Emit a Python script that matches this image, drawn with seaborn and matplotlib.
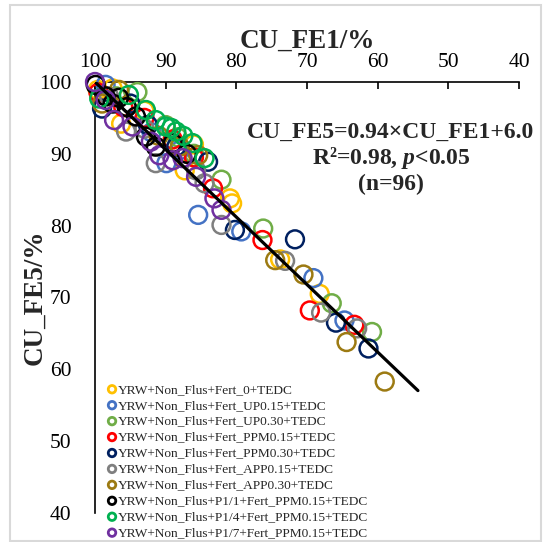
import numpy as np
import pandas as pd
import matplotlib
matplotlib.use("Agg")
import matplotlib.pyplot as plt
import seaborn as sns
from matplotlib.patches import Rectangle

sns.set_style("white")
plt.rcParams['font.family'] = ['Liberation Serif', 'DejaVu Serif']
plt.rcParams['mathtext.fontset'] = 'custom'
plt.rcParams['mathtext.it'] = 'Liberation Serif:italic:bold'
plt.rcParams['mathtext.rm'] = 'Liberation Serif:bold'

groups = [
    "YRW+Non_Flus+Fert_0+TEDC",
    "YRW+Non_Flus+Fert_UP0.15+TEDC",
    "YRW+Non_Flus+Fert_UP0.30+TEDC",
    "YRW+Non_Flus+Fert_PPM0.15+TEDC",
    "YRW+Non_Flus+Fert_PPM0.30+TEDC",
    "YRW+Non_Flus+Fert_APP0.15+TEDC",
    "YRW+Non_Flus+Fert_APP0.30+TEDC",
    "YRW+Non_Flus+P1/1+Fert_PPM0.15+TEDC",
    "YRW+Non_Flus+P1/4+Fert_PPM0.15+TEDC",
    "YRW+Non_Flus+P1/7+Fert_PPM0.15+TEDC",
]
colors = ["#FFC000", "#4472C4", "#70AD47", "#FF0000", "#002060",
          "#7F7F7F", "#9C7A12", "#000000", "#00B050", "#7030A0"]

fe1_yellow = [99.6, 97.5, 96.3, 93.0, 87.3, 86.0, 80.9, 73.8, 68.2, 80.6]
fe5_yellow = [98.9, 99.1, 94.2, 96.0, 87.7, 91.3, 83.8, 75.3, 70.5, 83.1]
fe1_blue = [98.5, 95.5, 92.0, 89.9, 88.0, 85.4, 79.3, 69.1, 64.7]
fe5_blue = [99.6, 96.5, 93.0, 88.7, 90.5, 81.5, 79.2, 72.7, 66.8]
fe1_lgreen = [97.0, 94.0, 90.0, 86.0, 82.1, 76.2, 66.5, 60.8, 88.3]
fe5_lgreen = [98.0, 98.6, 94.0, 90.0, 86.4, 79.6, 69.2, 65.2, 92.3]
fe1_red = [99.5, 96.0, 93.0, 89.0, 86.0, 83.3, 76.3, 69.6, 63.3]
fe5_red = [98.5, 96.5, 95.0, 92.0, 89.5, 85.2, 78.0, 68.2, 66.2]
fe1_dblue = [99.0, 95.0, 92.5, 88.5, 84.0, 80.2, 71.7, 65.9, 61.3]
fe5_dblue = [96.3, 97.0, 94.0, 91.0, 88.9, 79.4, 78.1, 66.5, 62.9]
fe1_gray = [98.0, 95.6, 93.0, 91.4, 85.7, 84.5, 82.1, 73.1, 68.0, 62.9]
fe5_gray = [98.0, 93.1, 93.5, 88.7, 87.7, 85.9, 80.1, 75.1, 67.9, 65.7]
fe1_brown = [99.0, 96.6, 91.0, 88.0, 85.4, 74.5, 70.5, 64.4, 59.0]
fe5_brown = [97.0, 98.9, 92.5, 91.0, 89.8, 75.2, 73.2, 63.8, 58.3]
fe1_black = [99.9, 98.5, 97.5, 95.5, 94.2, 92.8, 91.4, 89.0, 87.0, 96.6]
fe5_black = [99.6, 98.0, 97.0, 96.5, 95.2, 92.4, 91.0, 91.5, 90.0, 97.8]
fe1_green = [99.4, 95.2, 92.8, 91.4, 90.0, 89.2, 88.5, 87.5, 86.2, 84.5]
fe5_green = [97.7, 98.2, 96.1, 94.7, 93.8, 93.6, 93.1, 92.5, 91.5, 89.4]
fe1_purple = [100.0, 98.5, 97.3, 94.7, 92.1, 90.9, 89.0, 87.6, 85.7, 83.1, 82.1]
fe5_purple = [100.0, 97.5, 94.7, 93.8, 91.7, 89.8, 89.1, 89.4, 86.8, 83.8, 82.2]

fe1_all = [fe1_yellow, fe1_blue, fe1_lgreen, fe1_red, fe1_dblue,
           fe1_gray, fe1_brown, fe1_black, fe1_green, fe1_purple]
fe5_all = [fe5_yellow, fe5_blue, fe5_lgreen, fe5_red, fe5_dblue,
           fe5_gray, fe5_brown, fe5_black, fe5_green, fe5_purple]

slope, intercept = 0.94, 6.0
fit_x = np.array([100.0, 54.3])
fit_y = slope * fit_x + intercept

x_ticks = [100, 90, 80, 70, 60, 50, 40]
y_ticks = [40, 50, 60, 70, 80, 90, 100]

rows = []
for g, xs, ys in zip(groups, fe1_all, fe5_all):
    for a, b in zip(xs, ys):
        rows.append({"CU_FE1": a, "CU_FE5": b, "group": g})
df = pd.DataFrame(rows)

fig = plt.figure(figsize=(5.46, 5.42), dpi=100)
ax = fig.add_axes([95/546, 1-513/542, (519-95)/546, (513-82)/542])

for g, c in zip(groups, colors):
    sub = df[df["group"] == g]
    sns.scatterplot(data=sub, x="CU_FE1", y="CU_FE5", ax=ax, marker="o",
                    s=165, facecolors="none", edgecolors=c, linewidths=1.8,
                    label=g, clip_on=False, zorder=3)

sns.lineplot(x=fit_x, y=fit_y, ax=ax, color="black", lw=2.3, zorder=5,
             estimator=None, sort=False)

ax.set_xlim(100, 40)
ax.set_ylim(40, 100)
ax.set_xticks(x_ticks)
ax.set_yticks(y_ticks)
ax.xaxis.set_ticks_position("top")
ax.xaxis.set_label_position("top")
ax.tick_params(axis="both", direction="in", length=5, width=1.2,
               labelsize=15.5, colors="black")
ax.tick_params(axis="x", pad=7)
ax.tick_params(axis="y", pad=17)
for side in ["bottom", "right"]:
    ax.spines[side].set_visible(False)
for side in ["top", "left"]:
    ax.spines[side].set_linewidth(1.2)
    ax.spines[side].set_color("black")

ax.set_xlabel("CU_FE1/%", fontsize=19.5, fontweight="bold", labelpad=4)
ax.set_ylabel("CU_FE5/%", fontsize=19.5, fontweight="bold")
ax.yaxis.set_label_coords((47 - 95) / 424, 0.5)

tx = (391 - 95) / 424
ax.text(tx, (513 - 132) / 431, "CU_FE5=0.94×CU_FE1+6.0", transform=ax.transAxes,
        ha="center", va="center", fontsize=17, fontweight="bold")
ax.text(tx, (513 - 158) / 431, r"R²=0.98, $p$<0.05", transform=ax.transAxes,
        ha="center", va="center", fontsize=17, fontweight="bold")
ax.text(tx, (513 - 184) / 431, "(n=96)", transform=ax.transAxes,
        ha="center", va="center", fontsize=17, fontweight="bold")

leg = ax.legend(loc="upper left", bbox_to_anchor=(0.015, 0.313), frameon=False,
                fontsize=9.6, markerscale=0.42, handletextpad=0.05,
                labelspacing=0.27, borderaxespad=0, handlelength=0.8)
for h in leg.legend_handles:
    h.set_linewidth(2.0)

fig.patches.append(Rectangle((10/546, 1/542), 531/546, 536/542,
                             transform=fig.transFigure, fill=False,
                             edgecolor="#D9D9D9", lw=1.5))

fig.savefig("out.png", dpi=100)
